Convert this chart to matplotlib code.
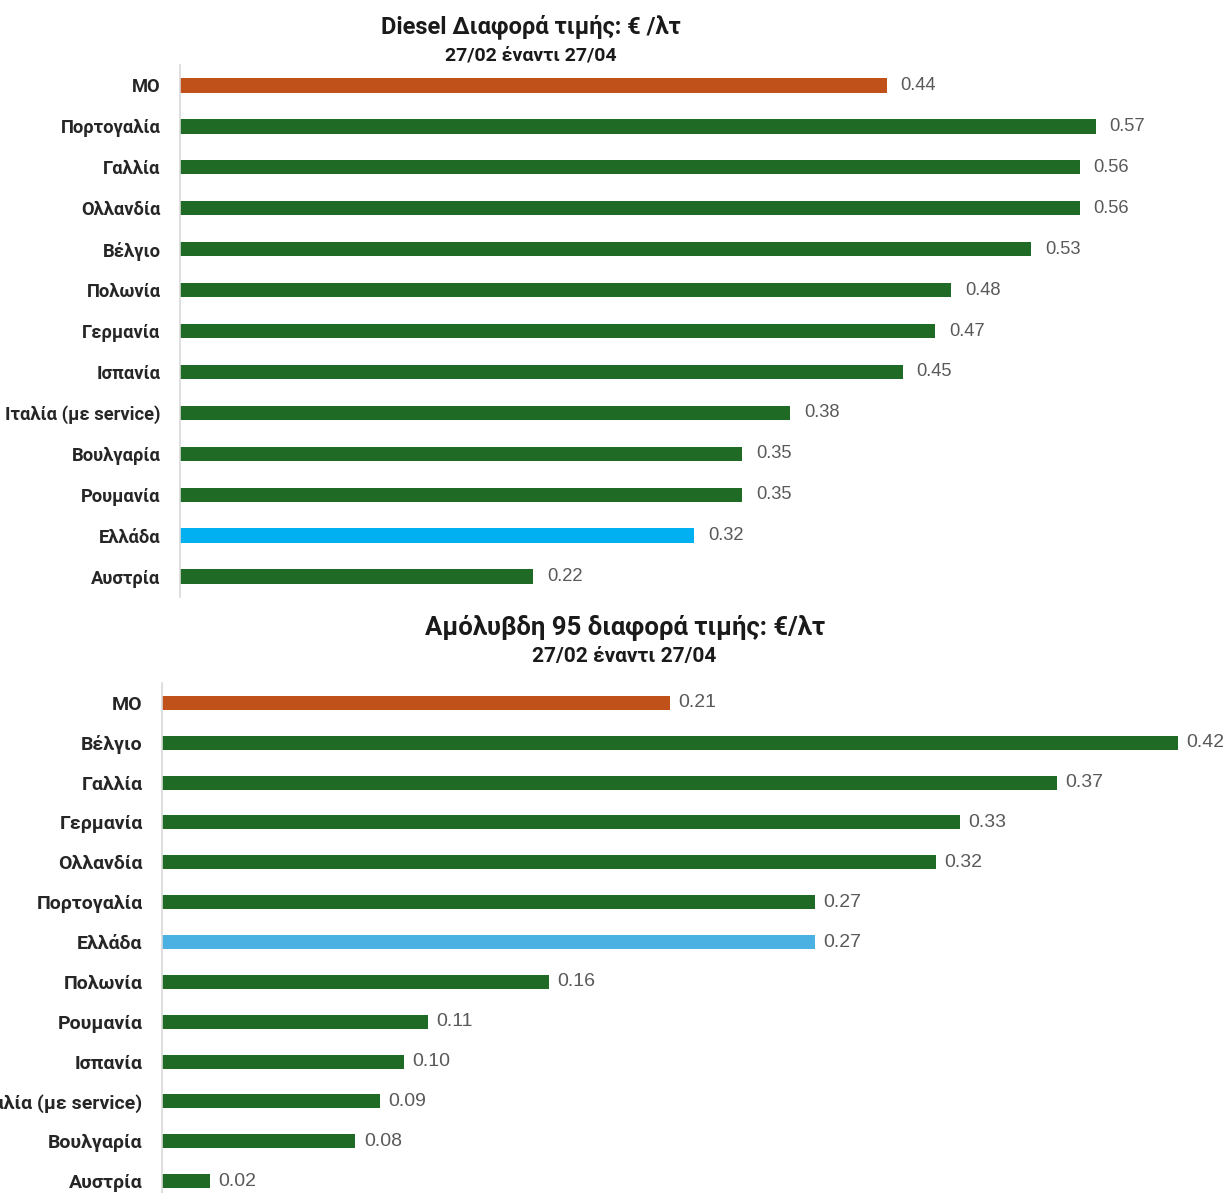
import matplotlib
matplotlib.use("Agg")
import matplotlib.pyplot as plt

plt.rcParams["font.family"] = ["Roboto", "DejaVu Sans"]

# ---- data ----
diesel_countries = ["ΜΟ", "Πορτογαλία", "Γαλλία", "Ολλανδία", "Βέλγιο", "Πολωνία",
                    "Γερμανία", "Ισπανία", "Ιταλία (με service)", "Βουλγαρία",
                    "Ρουμανία", "Ελλάδα", "Αυστρία"]
diesel_values = [0.44, 0.57, 0.56, 0.56, 0.53, 0.48, 0.47, 0.45, 0.38, 0.35, 0.35, 0.32, 0.22]

petrol_countries = ["ΜΟ", "Βέλγιο", "Γαλλία", "Γερμανία", "Ολλανδία", "Πορτογαλία",
                    "Ελλάδα", "Πολωνία", "Ρουμανία", "Ισπανία", "Ιταλία (με service)",
                    "Βουλγαρία", "Αυστρία"]
petrol_values = [0.21, 0.42, 0.37, 0.33, 0.32, 0.27, 0.27, 0.16, 0.11, 0.10, 0.09, 0.08, 0.02]

GREEN = "#1f6b25"
ORANGE = "#c0511a"
LABEL_C = "#262626"
VALUE_C = "#595959"


def bar_colors(countries, greece_color):
    cols = []
    for c in countries:
        if c == "ΜΟ":
            cols.append(ORANGE)
        elif c == "Ελλάδα":
            cols.append(greece_color)
        else:
            cols.append(GREEN)
    return cols


def draw(ax, countries, values, greece_color, xmax, lab_fs, val_fs, val_off):
    y = list(range(len(countries)))
    ax.barh(y, values, height=0.35, color=bar_colors(countries, greece_color))
    ax.set_ylim(len(countries) - 0.5, -0.5)
    ax.set_xlim(0, xmax)
    ax.set_yticks(y)
    ax.set_yticklabels(countries, fontsize=lab_fs, fontweight="bold", color=LABEL_C)
    ax.tick_params(axis="y", length=0, pad=14)
    ax.set_xticks([])
    for s in ("top", "right", "bottom"):
        ax.spines[s].set_visible(False)
    ax.spines["left"].set_color("#d9d9d9")
    ax.spines["left"].set_linewidth(1.2)
    for yi, v in zip(y, values):
        ax.annotate(f"{v:.2f}", (v, yi), xytext=(val_off, 0), textcoords="offset points",
                    va="center", ha="left", fontsize=val_fs, color=VALUE_C,
                    family=["Liberation Sans", "DejaVu Sans"], annotation_clip=False)


W, H = 1223, 1193
fig = plt.figure(figsize=(W / 100, H / 100), dpi=100)

# top: Diesel
ax1 = fig.add_axes([180 / W, 1 - 597 / H, 1028 / W, 532 / H])
draw(ax1, diesel_countries, diesel_values, "#00b0f0", 0.64, 13.2, 13.2, 10)
fig.text(531 / W, 1 - 27 / H, "Diesel Διαφορά τιμής: € /λτ", ha="center", va="center",
         fontsize=17, fontweight="bold", color="#1a1a1a")
fig.text(531 / W, 1 - 56 / H, "27/02 έναντι 27/04", ha="center", va="center",
         fontsize=14, fontweight="bold", color="#1a1a1a")

# bottom: Unleaded 95
ax2 = fig.add_axes([162 / W, 1 - 1201 / H, 1040 / W, 518 / H])
draw(ax2, petrol_countries, petrol_values, "#4bb0e2", 0.43, 14, 14, 6)
fig.text(625 / W, 1 - 627 / H, "Αμόλυβδη 95 διαφορά τιμής: €/λτ", ha="center", va="center",
         fontsize=18.5, fontweight="bold", color="#1a1a1a")
fig.text(624 / W, 1 - 657 / H, "27/02 έναντι 27/04", ha="center", va="center",
         fontsize=15, fontweight="bold", color="#1a1a1a")

fig.savefig("out.png", dpi=100)
